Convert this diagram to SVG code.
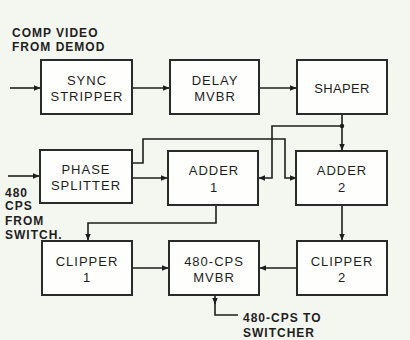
<svg xmlns="http://www.w3.org/2000/svg" width="410" height="340" viewBox="0 0 410 340">
<defs>
<marker id="ah" viewBox="0 0 10 10" refX="9" refY="5" markerWidth="7" markerHeight="7" orient="auto" markerUnits="userSpaceOnUse">
<path d="M0,1 L10,5 L0,9 Z" fill="#1e1e1e"/>
</marker>
<style>
.box{fill:#fefefc;stroke:#2a2a2a;stroke-width:2}
.t{font-family:"Liberation Sans","DejaVu Sans",sans-serif;font-size:13px;fill:#1e1e1e;text-anchor:middle;letter-spacing:1px}
.lb{font-family:"Liberation Sans","DejaVu Sans",sans-serif;font-size:12px;font-weight:bold;fill:#1e1e1e;letter-spacing:1px}
.w{fill:none;stroke:#1e1e1e;stroke-width:1.6}
</style>
</defs>
<rect width="410" height="340" fill="#f4f6f0"/>
<g id="connectors">
<path class="w" d="M10,88 H40" marker-end="url(#ah)"/>
<path class="w" d="M132,88 H169" marker-end="url(#ah)"/>
<path class="w" d="M259,88 H296" marker-end="url(#ah)"/>
<path class="w" d="M342,113 V150" marker-end="url(#ah)"/>
<circle cx="342" cy="126" r="2.2" fill="#1e1e1e"/>
<path class="w" d="M342,126 H272 V178 H259" marker-end="url(#ah)"/>
<path class="w" d="M132,163 H143 V139 H285 V178 H296" marker-end="url(#ah)"/>
<path class="w" d="M8,176 H39" marker-end="url(#ah)"/>
<path class="w" d="M132,178 H167" marker-end="url(#ah)"/>
<path class="w" d="M216,205 V223 H88 V240" marker-end="url(#ah)"/>
<path class="w" d="M132,268 H168" marker-end="url(#ah)"/>
<path class="w" d="M342,205 V240" marker-end="url(#ah)"/>
<path class="w" d="M297,268 H260" marker-end="url(#ah)"/>
<path class="w" d="M215,295 V304" marker-end="url(#ah)"/>
<path class="w" d="M215,302 V315 H238"/>
</g>
<g id="sync-stripper">
<rect class="box" x="41" y="60" width="91" height="54"/>
<text class="t" x="87" y="85">SYNC</text>
<text class="t" x="87" y="101">STRIPPER</text>
</g>
<g id="delay-mvbr">
<rect class="box" x="170" y="60" width="89" height="54"/>
<text class="t" x="215" y="85">DELAY</text>
<text class="t" x="215" y="101">MVBR</text>
</g>
<g id="shaper">
<rect class="box" x="297" y="60" width="90" height="54"/>
<text class="t" x="342" y="93" style="letter-spacing:0.3px">SHAPER</text>
</g>
<g id="phase-splitter">
<rect class="box" x="40" y="150" width="92" height="53"/>
<text class="t" x="86" y="174">PHASE</text>
<text class="t" x="86" y="190">SPLITTER</text>
</g>
<g id="adder-1">
<rect class="box" x="168" y="151" width="90" height="54"/>
<text class="t" x="214" y="175">ADDER</text>
<text class="t" x="214" y="192">1</text>
</g>
<g id="adder-2">
<rect class="box" x="296" y="151" width="91" height="54"/>
<text class="t" x="342" y="175">ADDER</text>
<text class="t" x="342" y="192">2</text>
</g>
<g id="clipper-1">
<rect class="box" x="42" y="241" width="90" height="54"/>
<text class="t" x="87" y="266">CLIPPER</text>
<text class="t" x="87" y="282">1</text>
</g>
<g id="mvbr-480">
<rect class="box" x="169" y="241" width="90" height="54"/>
<text class="t" x="214" y="266">480-CPS</text>
<text class="t" x="214" y="282">MVBR</text>
</g>
<g id="clipper-2">
<rect class="box" x="297" y="241" width="90" height="54"/>
<text class="t" x="342" y="266">CLIPPER</text>
<text class="t" x="342" y="282">2</text>
</g>
<g id="labels">
<text class="lb" x="12" y="37">COMP VIDEO</text>
<text class="lb" x="12" y="51">FROM DEMOD</text>
<text class="lb" x="5" y="197">480</text>
<text class="lb" x="5" y="210">CPS</text>
<text class="lb" x="5" y="225">FROM</text>
<text class="lb" x="5" y="239">SWITCH.</text>
<text class="lb" x="243" y="322">480-CPS TO</text>
<text class="lb" x="243" y="337">SWITCHER</text>
</g>
</svg>
